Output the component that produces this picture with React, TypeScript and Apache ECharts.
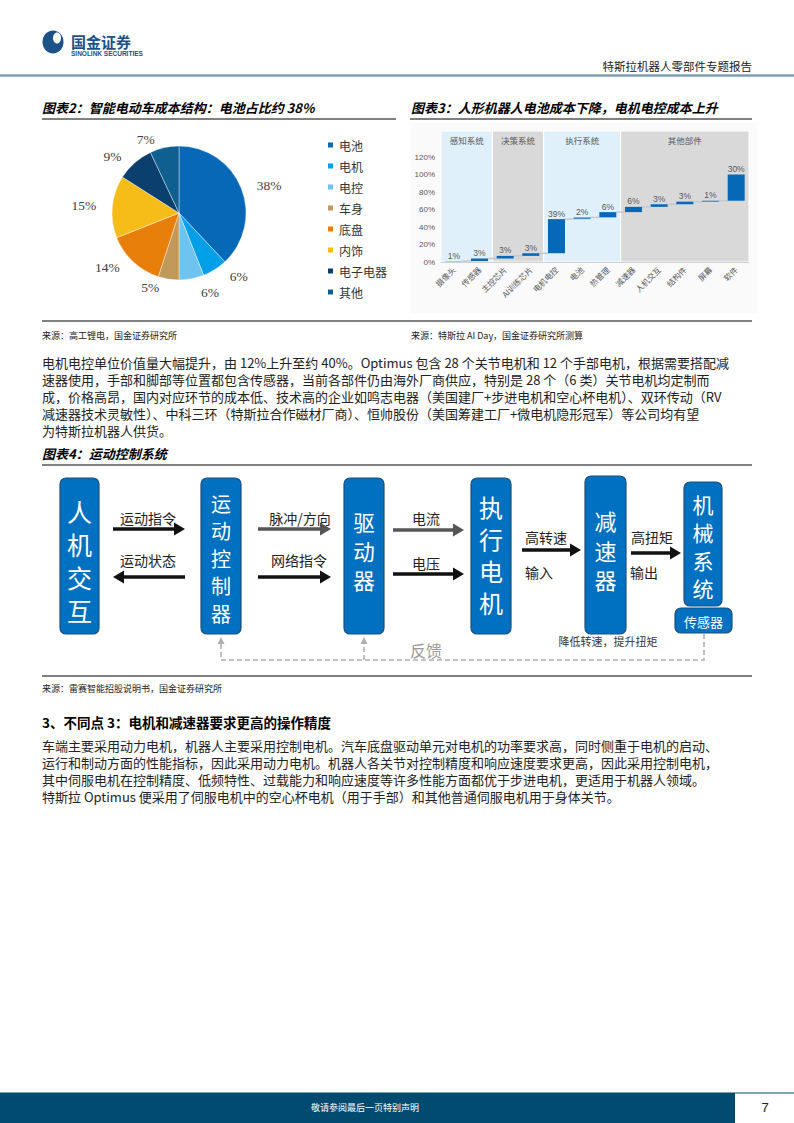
import React, { useEffect, useRef } from "react";
import * as echarts from "echarts";

// ---------- Figure 2 (pie) ----------
const pieNames = ["电池", "电机", "电控", "车身", "底盘", "内饰", "电子电器", "其他"];
const pieValues = [38, 6, 6, 5, 14, 15, 9, 7];
const pieColors = ["#0868b8", "#00a0e9", "#6fc3f0", "#c19a5b", "#e97f0b", "#f6bd19", "#0b3f6e", "#0f6090"];

// ---------- Figure 3 (waterfall) ----------
const wfCategories = ["摄像头", "传感器", "主控芯片", "AI训练芯片", "电机电控", "电池", "热管理", "减速器", "人机交互", "结构件", "屏幕", "软件"];
const wfValues = [1, 3, 3, 3, 39, 2, 6, 6, 3, 3, 1, 30];
const wfBarColors = ["#a3c9e8", "#0868b8", "#0868b8", "#0868b8", "#0868b8", "#3a8ad0", "#0868b8", "#0868b8", "#0868b8", "#0868b8", "#0868b8", "#0868b8"];
const wfGroups = ["感知系统", "决策系统", "执行系统", "其他部件"];
const wfGroupStart = [0, 2, 4, 7];
const wfGroupEnd = [1, 3, 6, 11];

// ---------- Texts ----------
const para1 = [
  "电机电控单位价值量大幅提升，由 12%上升至约 40%。Optimus 包含 28 个关节电机和 12 个手部电机，根据需要搭配减",
  "速器使用，手部和脚部等位置都包含传感器，当前各部件仍由海外厂商供应，特别是 28 个（6 类）关节电机均定制而",
  "成，价格高昂，国内对应环节的成本低、技术高的企业如鸣志电器（美国建厂+步进电机和空心杯电机）、双环传动（RV",
  "减速器技术灵敏性）、中科三环（特斯拉合作磁材厂商）、恒帅股份（美国筹建工厂+微电机隐形冠军）等公司均有望",
  "为特斯拉机器人供货。",
];
const para2 = [
  "车端主要采用动力电机，机器人主要采用控制电机。汽车底盘驱动单元对电机的功率要求高，同时侧重于电机的启动、",
  "运行和制动方面的性能指标，因此采用动力电机。机器人各关节对控制精度和响应速度要求更高，因此采用控制电机，",
  "其中伺服电机在控制精度、低频特性、过载能力和响应速度等许多性能方面都优于步进电机，更适用于机器人领域。",
  "特斯拉 Optimus 便采用了伺服电机中的空心杯电机（用于手部）和其他普通伺服电机用于身体关节。",
];

const CJK = "'Noto Sans CJK SC', sans-serif";

function txt(text: string, x: number, y: number, o: any = {}) {
  const style: any = {
    text,
    fill: o.color || "#222",
    fontSize: o.size || 12,
    fontFamily: o.family || CJK,
    fontWeight: o.weight || "normal",
    fontStyle: o.italic ? "italic" : "normal",
    align: o.align || "left",
    textAlign: o.align || "left",
    verticalAlign: "middle",
    textVerticalAlign: "middle",
  };
  if (o.lh) style.lineHeight = o.lh;
  return { type: "text", x, y, silent: true, z: o.z ?? 10, style };
}

function hline(x1: number, x2: number, y: number, color: string, w: number) {
  return { type: "line", silent: true, shape: { x1, y1: y, x2, y2: y }, style: { stroke: color, lineWidth: w } };
}

function arrow(x1: number, x2: number, y: number, color: string) {
  const dir = x2 > x1 ? 1 : -1;
  const head = 11;
  return [
    { type: "line", silent: true, shape: { x1, y1: y, x2: x2 - dir * head, y2: y }, style: { stroke: color, lineWidth: 3.5 } },
    {
      type: "polygon",
      silent: true,
      shape: { points: [[x2 - dir * head, y - 6.5], [x2, y], [x2 - dir * head, y + 6.5]] },
      style: { fill: color },
    },
  ];
}

function box(x: number, y: number, w: number, h: number) {
  return {
    type: "rect",
    silent: true,
    shape: { x, y, width: w, height: h, r: 6 },
    style: { fill: "#0070c0", stroke: "#1f4e79", lineWidth: 1.2 },
  };
}

// vertical label as one multi-line text
function vtext(chars: string, cx: number, yFirst: number, yLast: number, size: number) {
  const n = chars.length;
  const lh = (yLast - yFirst) / (n - 1);
  return txt(chars.split("").join("\n"), cx, (yFirst + yLast) / 2, { color: "#fff", size, align: "center", lh });
}

export default function App() {
  const ref = useRef<HTMLDivElement>(null);
  useEffect(() => {
    if (!ref.current) return;
    const chart = echarts.init(ref.current, null, { renderer: "svg" });

    const cum: number[] = [];
    wfValues.reduce((s, v) => {
      cum.push(s + v);
      return s + v;
    }, 0);
    const base = wfValues.map((v, i) => (i === 0 ? 0 : cum[i - 1]));
    const barW = 17;

    const graphics: any[] = [];
    // header
    graphics.push({ type: "ellipse", silent: true, shape: { cx: 53, cy: 42, rx: 10.5, ry: 11.5 }, style: { fill: "#1b5288" } });
    graphics.push({ type: "ellipse", silent: true, shape: { cx: 57, cy: 38, rx: 4, ry: 5.5 }, style: { fill: "#fff" } });
    graphics.push({ type: "rect", silent: true, shape: { x: 51, y: 44, width: 4, height: 8 }, style: { fill: "#1b5288" } });
    graphics.push(txt("国金证券", 71, 41, { size: 15, weight: "bold", color: "#1b5288" }));
    graphics.push(txt("SINOLINK SECURITIES", 71, 53, { size: 6.5, weight: "bold", color: "#1b5288", family: "'Liberation Sans', Arial, sans-serif" }));
    graphics.push(txt("特斯拉机器人零部件专题报告", 752, 66, { size: 11.5, align: "right", color: "#222" }));
    graphics.push(hline(0, 794, 75.5, "#7f9db3", 2.5));

    // figure titles
    graphics.push(txt("图表2：智能电动车成本结构：电池占比约 38%", 42, 107, { size: 13, weight: "bold", italic: true, color: "#000" }));
    graphics.push(hline(42, 396, 119, "#000", 1));
    graphics.push(txt("图表3：人形机器人电池成本下降，电机电控成本上升", 411, 107, { size: 13, weight: "bold", italic: true, color: "#000" }));
    graphics.push(hline(410, 752, 119, "#000", 1));
    // fig3 panel
    graphics.push({ type: "rect", silent: true, z: -10, shape: { x: 411, y: 123, width: 346, height: 190 }, style: { fill: "#fafafa" } });

    graphics.push(hline(42, 752, 321, "#000", 1));
    graphics.push(txt("来源：高工锂电，国金证券研究所", 42, 335, { size: 9, color: "#222" }));
    graphics.push(txt("来源：特斯拉 AI Day，国金证券研究所测算", 411, 335, { size: 9, color: "#222" }));

    const p1y = [362.5, 379.5, 396.5, 413.5, 430.5];
    para1.forEach((l, i) => graphics.push(txt(l, 42, p1y[i], { size: 13, color: "#222", lh: 16 })));

    // figure 4
    graphics.push(txt("图表4：运动控制系统", 42, 453, { size: 13, weight: "bold", italic: true, color: "#000" }));
    graphics.push(hline(42, 752, 465, "#000", 1));

    graphics.push(box(60, 478, 39, 156));
    graphics.push(vtext("人机交互", 79.5, 511, 610, 25));
    graphics.push(box(201, 478, 40, 156));
    graphics.push(vtext("运动控制器", 221, 503, 613, 20));
    graphics.push(box(344, 478, 40, 156));
    graphics.push(vtext("驱动器", 364, 521, 579, 21.5));
    graphics.push(box(471, 478, 40, 156));
    graphics.push(vtext("执行电机", 491, 506, 602, 24));
    graphics.push(box(585, 476, 41, 158));
    graphics.push(vtext("减速器", 605.5, 520, 579, 22));
    graphics.push(box(684, 482, 38, 124));
    graphics.push(vtext("机械系统", 703, 504, 588, 21));
    graphics.push(box(675, 608, 57, 25));
    graphics.push(txt("传感器", 703.5, 621, { size: 13, color: "#fff", align: "center" }));

    graphics.push(txt("运动指令", 148, 518, { size: 14, align: "center" }));
    graphics.push(...arrow(113, 185, 529, "#111"));
    graphics.push(txt("运动状态", 148, 560, { size: 14, align: "center" }));
    graphics.push(...arrow(185, 113, 577, "#111"));
    graphics.push(txt("脉冲/方向", 300, 518, { size: 14, align: "center" }));
    graphics.push(...arrow(258, 331, 529, "#555"));
    graphics.push(txt("网络指令", 299, 560, { size: 14, align: "center" }));
    graphics.push(...arrow(258, 331, 577, "#111"));
    graphics.push(txt("电流", 426, 518, { size: 14, align: "center" }));
    graphics.push(...arrow(393, 464, 530, "#555"));
    graphics.push(txt("电压", 426, 563, { size: 14, align: "center" }));
    graphics.push(...arrow(393, 464, 574, "#111"));
    graphics.push(txt("高转速", 546, 537, { size: 14, align: "center" }));
    graphics.push(...arrow(522, 581, 550, "#111"));
    graphics.push(txt("输入", 539, 572, { size: 14, align: "center" }));
    graphics.push(txt("高扭矩", 652, 537, { size: 14, align: "center" }));
    graphics.push(...arrow(631, 681, 553, "#111"));
    graphics.push(txt("输出", 644, 572, { size: 14, align: "center" }));
    graphics.push(txt("降低转速，提升扭矩", 608, 641, { size: 11, align: "center", color: "#333" }));

    // feedback
    const fb = { stroke: "#b0b0b0", lineWidth: 1.6, lineDash: [5, 3] };
    graphics.push({ type: "polyline", silent: true, shape: { points: [[704, 634], [704, 660], [221, 660], [221, 643]] }, style: { ...fb, fill: null } });
    graphics.push({ type: "line", silent: true, shape: { x1: 364, y1: 660, x2: 364, y2: 643 }, style: fb });
    [221, 364].forEach((x) =>
      graphics.push({ type: "polygon", silent: true, shape: { points: [[x - 3.5, 644], [x, 637], [x + 3.5, 644]] }, style: { fill: "#b0b0b0" } })
    );
    graphics.push(txt("反馈", 426, 650, { size: 16, align: "center", color: "#9a9a9a" }));

    graphics.push(hline(42, 752, 676, "#000", 1));
    graphics.push(txt("来源：雷赛智能招股说明书，国金证券研究所", 42, 688, { size: 9, color: "#222" }));

    graphics.push(txt("3、不同点 3：电机和减速器要求更高的操作精度", 42, 722, { size: 13.5, weight: "bold", color: "#000" }));
    const p2y = [745, 762, 779, 796];
    para2.forEach((l, i) => graphics.push(txt(l, 42, p2y[i], { size: 13, color: "#222", lh: 16 })));

    // footer
    graphics.push(hline(0, 794, 1093, "#004b6f", 1));
    graphics.push({ type: "rect", silent: true, shape: { x: 0, y: 1093, width: 735, height: 30 }, style: { fill: "#004b6f" } });
    graphics.push(txt("敬请参阅最后一页特别声明", 365, 1107, { size: 9, color: "#fff", align: "center" }));
    graphics.push(txt("7", 765, 1107, { size: 13, color: "#222", align: "center", family: "'Liberation Sans', Arial, sans-serif" }));

    const option: any = {
      animation: false,
      backgroundColor: "#fff",
      graphic: { elements: graphics },
      legend: {
        data: pieNames,
        orient: "vertical",
        left: 321,
        top: 133,
        icon: "rect",
        itemWidth: 7,
        itemHeight: 7,
        itemGap: 7,
        selectedMode: false,
        textStyle: { fontSize: 12, lineHeight: 14, color: "#333", fontFamily: CJK },
      },
      grid: { left: 441, top: 157, width: 308, height: 105 },
      xAxis: {
        type: "category",
        data: wfCategories,
        z: 5,
        axisTick: { show: false },
        axisLine: { lineStyle: { color: "#d0d0d0" } },
        axisLabel: { rotate: 45, interval: 0, fontSize: 8, color: "#595959", fontFamily: CJK, margin: 6 },
      },
      yAxis: {
        type: "value",
        min: 0,
        max: 120,
        interval: 20,
        splitLine: { show: false },
        axisLine: { show: false },
        axisLabel: { formatter: "{value}%", fontSize: 8, color: "#595959", fontFamily: "'Liberation Sans', Arial, sans-serif", margin: 6 },
      },
      series: [
        {
          type: "pie",
          center: [179, 213],
          radius: 67,
          startAngle: 90,
          clockwise: true,
          data: pieNames.map((n, i) => ({ name: n, value: pieValues[i], itemStyle: { color: pieColors[i] } })),
          itemStyle: { borderColor: "#fff", borderWidth: 0.4 },
          label: {
            show: true,
            position: "outside",
            formatter: "{c}%",
            fontSize: 13.5,
            color: "#404040",
            fontFamily: "'Liberation Serif', 'Times New Roman', serif",
          },
          labelLine: { show: false, length: 8, length2: 3 },
          silent: true,
        },
        {
          type: "custom",
          z: 1,
          silent: true,
          data: wfGroups.map((g, i) => [wfGroupStart[i], wfGroupEnd[i], i]),
          renderItem: (params: any, api: any) => {
            const s = api.value(0);
            const e = api.value(1);
            const gi = api.value(2);
            const bw = api.size([1, 0])[0];
            const x0 = api.coord([s, 0])[0] - bw / 2;
            const x1 = api.coord([e, 0])[0] + bw / 2;
            const yb = api.coord([s, 0])[1];
            const yt = api.coord([s, 120])[1] - 26;
            return {
              type: "group",
              children: [
                {
                  type: "rect",
                  shape: { x: x0, y: yt, width: x1 - x0, height: yb - yt },
                  style: { fill: gi % 2 === 0 ? "#dff0fb" : "#d9d9d9", stroke: "#fff", lineWidth: 1 },
                },
                {
                  type: "text",
                  style: {
                    text: wfGroups[gi],
                    x: (x0 + x1) / 2,
                    y: yt + 9,
                    align: "center",
                    verticalAlign: "middle",
                    textAlign: "center",
                    textVerticalAlign: "middle",
                    fill: "#595959",
                    fontSize: 8.5,
                    fontFamily: CJK,
                  },
                },
              ],
            };
          },
        },
        {
          type: "custom",
          z: 2,
          silent: true,
          data: cum.slice(0, cum.length - 1).map((c, i) => [i, c]),
          renderItem: (params: any, api: any) => {
            const p = api.coord([api.value(0), api.value(1)]);
            const bw = api.size([1, 0])[0];
            return {
              type: "line",
              shape: { x1: p[0] + barW / 2, y1: p[1], x2: p[0] + bw - barW / 2, y2: p[1] },
              style: { stroke: "#c8c8c8", lineWidth: 1.5 },
            };
          },
        },
        {
          type: "bar",
          stack: "wf",
          z: 3,
          barWidth: barW,
          silent: true,
          itemStyle: { color: "transparent" },
          data: base,
        },
        {
          type: "bar",
          stack: "wf",
          z: 3,
          barWidth: barW,
          silent: true,
          data: wfValues.map((v, i) => ({ value: v, itemStyle: { color: wfBarColors[i] } })),
          label: {
            show: true,
            position: "top",
            distance: 1,
            formatter: "{c}%",
            fontSize: 8.5,
            color: "#595959",
            fontFamily: "'Liberation Sans', Arial, sans-serif",
          },
        },
      ],
    };
    chart.setOption(option);
    return () => chart.dispose();
  }, []);

  return <div ref={ref} style={{ position: "absolute", left: 0, top: 0, width: 794, height: 1123 }} />;
}
